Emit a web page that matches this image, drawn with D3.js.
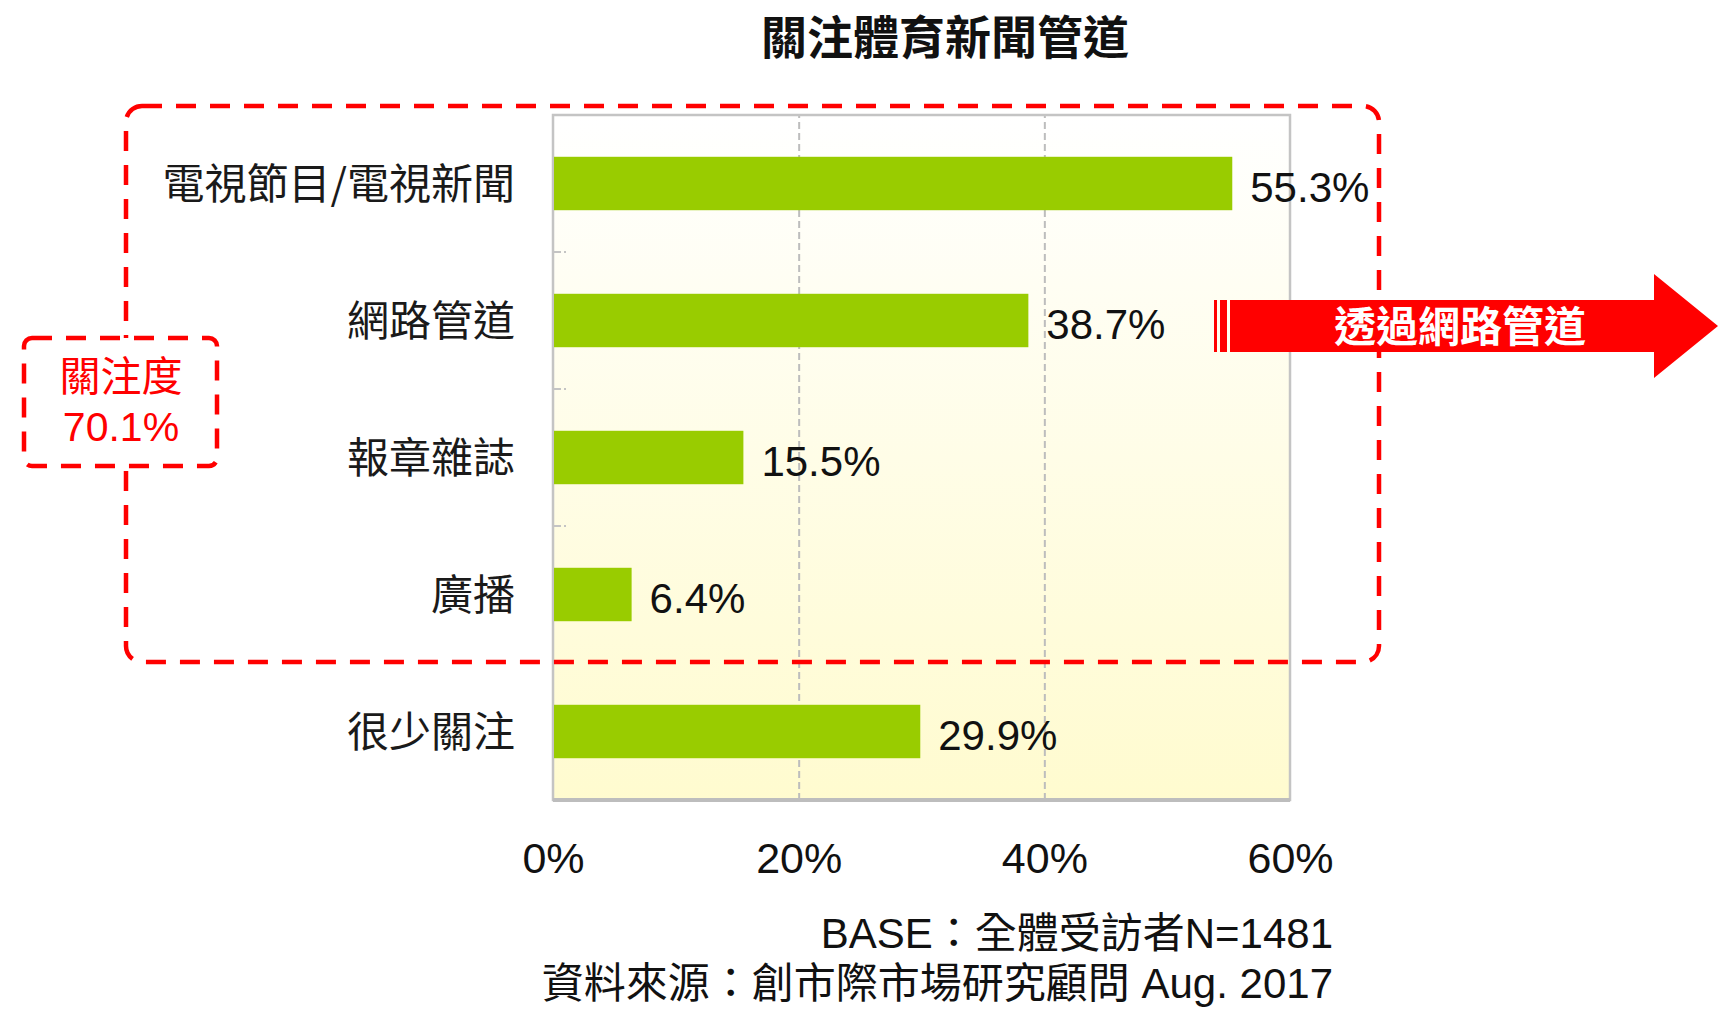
<!DOCTYPE html>
<html>
<head>
<meta charset="utf-8">
<script src="https://cdn.jsdelivr.net/npm/d3@7"></script>
<style>
  body { margin: 0; background: #fff; }
  svg { display: block; }
</style>
</head>
<body>
<div id="chart"></div>
<script>
// chart data
const categories = ["電視節目/電視新聞", "網路管道", "報章雜誌", "廣播", "很少關注"];
const values = [55.3, 38.7, 15.5, 6.4, 29.9];
const xTicks = [0, 20, 40, 60];
const title = "關注體育新聞管道";
const attentionLabel = ["關注度", "70.1%"];
const arrowLabel = "透過網路管道";
const footnotes = ["BASE：全體受訪者N=1481", "資料來源：創市際市場研究顧問 Aug. 2017"];

const W = 1718, H = 1009;
const plot = { left: 553, right: 1290, top: 115, bottom: 800 };
const latin = "'Liberation Sans', 'Noto Sans CJK TC', sans-serif";
const cjk = "'Noto Sans CJK TC', 'Liberation Sans', sans-serif";

const svg = d3.select("#chart").append("svg")
    .attr("width", W)
    .attr("height", H);

// background gradient of the plot area
const grad = svg.append("defs").append("linearGradient")
    .attr("id", "bg").attr("x1", 0).attr("y1", 0).attr("x2", 0).attr("y2", 1);
grad.append("stop").attr("offset", "0%").attr("stop-color", "#ffffff");
grad.append("stop").attr("offset", "100%").attr("stop-color", "#fffbcf");

// scales
const x = d3.scaleLinear().domain([0, 60]).range([plot.left, plot.right]);
const y = d3.scaleBand().domain(categories).range([plot.top, plot.bottom])
    .paddingInner(0.61).paddingOuter(0.305);

svg.append("rect")
    .attr("x", plot.left).attr("y", plot.top)
    .attr("width", plot.right - plot.left).attr("height", plot.bottom - plot.top)
    .attr("fill", "url(#bg)");

// dashed gridlines
svg.append("g")
    .attr("transform", "translate(0," + plot.bottom + ")")
    .call(d3.axisBottom(x).tickValues([20, 40]).tickSize(-(plot.bottom - plot.top)).tickFormat(""))
    .call(g => g.select(".domain").remove())
    .selectAll("line")
    .attr("stroke", "#bdbdbd")
    .attr("stroke-width", 2)
    .attr("stroke-dasharray", "7,4");

// small marks at band boundaries on the left edge
const step = y.step();
svg.append("g").selectAll("line")
    .data(categories.slice(1))
    .join("line")
    .attr("x1", plot.left).attr("x2", plot.left + 13)
    .attr("y1", d => y(d) - (step - y.bandwidth()) / 2)
    .attr("y2", d => y(d) - (step - y.bandwidth()) / 2)
    .attr("stroke", "#c4c4c4")
    .attr("stroke-width", 2)
    .attr("stroke-dasharray", "8,3,2");

// plot border
svg.append("rect")
    .attr("x", plot.left).attr("y", plot.top)
    .attr("width", plot.right - plot.left).attr("height", plot.bottom - plot.top)
    .attr("fill", "none")
    .attr("stroke", "#c4c4c4")
    .attr("stroke-width", 2.5);
svg.append("line")
    .attr("x1", plot.left).attr("x2", plot.right)
    .attr("y1", plot.bottom).attr("y2", plot.bottom)
    .attr("stroke", "#bdbdbd").attr("stroke-width", 4);

// bars
svg.append("g").selectAll("rect")
    .data(categories)
    .join("rect")
    .attr("x", x(0) + 1)
    .attr("y", d => y(d))
    .attr("width", (d, i) => x(values[i]) - x(0) - 1)
    .attr("height", y.bandwidth())
    .attr("fill", "#99cc00");

// value labels
svg.append("g").selectAll("text")
    .data(categories)
    .join("text")
    .attr("x", (d, i) => x(values[i]) + 18)
    .attr("y", d => y(d) + y.bandwidth() / 2)
    .attr("dy", "0.43em")
    .style("font-family", latin)
    .style("font-size", "42px")
    .attr("fill", "#111")
    .text((d, i) => values[i].toFixed(1) + "%");

// category axis
svg.append("g")
    .attr("transform", "translate(" + plot.left + ",2)")
    .call(d3.axisLeft(y).tickSize(0).tickPadding(38))
    .call(g => g.select(".domain").remove())
    .selectAll("text")
    .style("font-family", cjk)
    .style("font-size", "42px")
    .attr("fill", "#1a1a1a");

// x axis labels
svg.append("g")
    .attr("transform", "translate(0," + plot.bottom + ")")
    .call(d3.axisBottom(x).tickValues(xTicks).tickSize(0).tickPadding(42).tickFormat(d => d + "%"))
    .call(g => g.select(".domain").remove())
    .selectAll("text")
    .style("font-family", latin)
    .style("font-size", "43px")
    .attr("fill", "#111");

// title
svg.append("text")
    .attr("x", 945).attr("y", 54)
    .attr("text-anchor", "middle")
    .style("font-family", cjk)
    .style("font-size", "46px")
    .style("font-weight", "bold")
    .attr("fill", "#111")
    .text(title);

// red dashed frame around the channels
svg.append("rect")
    .attr("x", 126).attr("y", 106)
    .attr("width", 1379 - 126).attr("height", 662 - 106)
    .attr("rx", 16)
    .attr("fill", "none")
    .attr("stroke", "#ff0000")
    .attr("stroke-width", 4.5)
    .attr("stroke-dasharray", "20,14");

// attention box
svg.append("rect")
    .attr("x", 24).attr("y", 338)
    .attr("width", 217 - 24).attr("height", 466 - 338)
    .attr("rx", 8)
    .attr("fill", "#fff")
    .attr("stroke", "#ff0000")
    .attr("stroke-width", 4.5)
    .attr("stroke-dasharray", "20,14");
svg.append("g").selectAll("text")
    .data(attentionLabel)
    .join("text")
    .attr("x", 121)
    .attr("y", (d, i) => 391 + i * 50)
    .attr("text-anchor", "middle")
    .style("font-family", latin)
    .style("font-size", "41px")
    .attr("fill", "#ff0000")
    .text(d => d);

// arrow
const arrow = svg.append("g");
arrow.append("rect").attr("x", 1214).attr("y", 300).attr("width", 3).attr("height", 52).attr("fill", "#ff0000");
arrow.append("rect").attr("x", 1220).attr("y", 300).attr("width", 7).attr("height", 52).attr("fill", "#ff0000");
arrow.append("path")
    .attr("d", "M1230,300 L1654,300 L1654,274 L1718,326 L1654,378 L1654,352 L1230,352 Z")
    .attr("fill", "#ff0000");
arrow.append("text")
    .attr("x", 1460).attr("y", 327)
    .attr("dy", "0.36em")
    .attr("text-anchor", "middle")
    .style("font-family", cjk)
    .style("font-size", "42px")
    .style("font-weight", "bold")
    .attr("fill", "#fff")
    .text(arrowLabel);

// footnotes
svg.append("g").selectAll("text")
    .data(footnotes)
    .join("text")
    .attr("x", 1333)
    .attr("y", (d, i) => 948 + i * 50)
    .attr("text-anchor", "end")
    .style("font-family", latin)
    .style("font-size", "42px")
    .attr("fill", "#111")
    .text(d => d);
</script>
</body>
</html>
